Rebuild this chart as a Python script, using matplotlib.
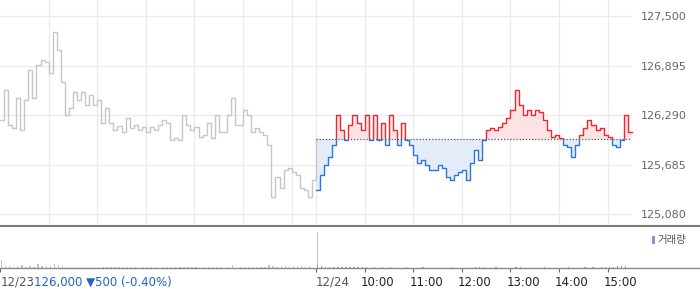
import numpy as np
import matplotlib
matplotlib.use('Agg')
import matplotlib.pyplot as plt
from matplotlib.patches import Rectangle
from matplotlib.lines import Line2D
from matplotlib.transforms import blended_transform_factory

# prix 5 minutes, 12/23 (09:00 -> 15:30)
price_d1 = [126230, 126600, 126170, 126130, 126500, 126110, 126480, 126840, 126500, 126900,
            126960, 126940, 126800, 127300, 127090, 126700, 126290, 126380, 126570, 126480,
            126570, 126410, 126540, 126410, 126480, 126190, 126380, 126190, 126110, 126160,
            126090, 126260, 126130, 126170, 126110, 126150, 126090, 126150, 126110, 126170,
            126230, 126190, 125990, 126010, 125990, 126290, 126170, 126110, 126150, 126020,
            126050, 126190, 126010, 126290, 126090, 126090, 126290, 126500, 126170, 126170,
            126350, 126290, 126090, 126130, 126090, 126050, 125930, 125290, 125540, 125400,
            125620, 125650, 125600, 125560, 125400, 125380, 125290, 125500, 126000]

# prix 5 minutes, 12/24
price_d2 = [125380, 125560, 125680, 125780, 125930, 126290, 126110, 125990, 126170, 126290,
            126190, 126110, 126290, 125990, 126290, 125990, 126190, 125930, 126290, 126110,
            125930, 126190, 125990, 125930, 125800, 125710, 125740, 125680, 125620, 125620,
            125680, 125650, 125540, 125500, 125560, 125600, 125620, 125500, 125710, 125870,
            125740, 125990, 126110, 126130, 126110, 126150, 126190, 126260, 126350, 126600,
            126410, 126290, 126350, 126290, 126350, 126330, 126230, 126110, 126020, 126050,
            126010, 125930, 125900, 125780, 125930, 126050, 126130, 126230, 126170, 126110,
            126130, 126050, 126020, 125930, 125900, 125990, 126290, 126090, 126090]

vol_d1 = [800, 250, 200, 150, 200, 300, 150, 200, 150, 450,
          200, 250, 180, 400, 300, 200, 150, 120, 150, 100,
          120, 100, 150, 100, 80, 100, 120, 80, 90, 60,
          80, 100, 60, 80, 50, 60, 70, 80, 60, 50,
          60, 80, 70, 100, 60, 80, 90, 60, 70, 50,
          60, 80, 90, 60, 70, 40, 60, 300, 50, 60,
          80, 100, 120, 90, 70, 150, 300, 180, 150, 200,
          200, 150, 180, 200, 160, 150, 180, 0, 3600]

vol_d2 = [300, 250, 150, 120, 100, 80, 120, 60, 80, 60,
          100, 80, 60, 50, 60, 50, 60, 40, 60, 50,
          40, 50, 60, 40, 50, 40, 60, 40, 50, 40,
          30, 50, 40, 60, 40, 50, 30, 40, 50, 60,
          80, 60, 40, 50, 60, 40, 30, 40, 50, 60,
          100, 40, 50, 40, 30, 40, 60, 50, 40, 50,
          40, 30, 60, 50, 40, 50, 60, 50, 80, 50,
          60, 80, 120, 150, 200, 180, 250, 0, 2400]

base_price = 126000
y_ticks = [125080, 125685, 126290, 126895, 127500]
time_labels = ['10:00', '11:00', '12:00', '13:00', '14:00', '15:00']
prev_info = '126,000 ▼500 (-0.40%)'

# minutes depuis 12/23 09:00
t1 = np.arange(len(price_d1)) * 5
t2 = 390 + np.arange(len(price_d2)) * 5

RED = '#f2262e'
BLUE = '#2b76d8'
GRAY = '#c6c6cb'

W, H = 700, 289
fig = plt.figure(figsize=(7, 2.89), dpi=100)
right = 632 / W
ax = fig.add_axes([0, (H - 224) / H, right, 224 / H])
axv = fig.add_axes([0, (H - 268) / H, right, 41 / H])

# graphique principal
ax.set_xlim(0, 780)
ax.set_ylim(124962, 127695)
ax.set_xticks([60, 120, 180, 240, 300, 360, 390, 450, 510, 570, 630, 690, 750])
ax.set_yticks(y_ticks)
ax.set_yticklabels([f'{v:,}' for v in y_ticks])
ax.grid(True, color='#ebebeb', lw=1)
ax.set_axisbelow(True)
for s in ax.spines.values():
    s.set_visible(False)
ax.tick_params(bottom=False, labelbottom=False, left=False, labelleft=False,
               right=True, labelright=True, length=0, pad=6,
               labelsize=8, labelcolor='#666666')

ax.plot(t1, price_d1, drawstyle='steps-post', color=GRAY, lw=1.0)

# au-dessus / en dessous du cours de référence
up = Rectangle((390, base_price), 400, 5000, transform=ax.transData)
dn = Rectangle((390, base_price - 5000), 400, 5000, transform=ax.transData)
f_up = ax.fill_between(t2, price_d2, base_price, step='post', color='#fde3e5', lw=0)
f_up.set_clip_path(up)
f_dn = ax.fill_between(t2, price_d2, base_price, step='post', color='#e3ecf8', lw=0)
f_dn.set_clip_path(dn)
ax.plot([390, 780], [base_price, base_price], color='#555555', lw=0.9, ls=(0, (1, 1.5)))
l_up, = ax.plot(t2, price_d2, drawstyle='steps-post', color=RED, lw=1.0)
l_up.set_clip_path(up)
l_dn, = ax.plot(t2, price_d2, drawstyle='steps-post', color=BLUE, lw=1.0)
l_dn.set_clip_path(dn)

# volume
axv.set_xlim(0, 780)
axv.set_ylim(0, 4100)
axv.bar(t1 + 2, vol_d1, width=1.6, color='#c4c4c4', lw=0)
axv.bar(t2 + 2, vol_d2, width=1.6, color='#9a8bd0', lw=0)
axv.set_xticks([0, 390, 450, 510, 570, 630, 690, 750])
axv.set_xticklabels([])
axv.set_yticks([])
for s in axv.spines.values():
    s.set_visible(False)
axv.tick_params(axis='x', length=3, color='#666666', direction='out')

# lignes de séparation
fig.add_artist(Line2D([0, 1], [(H - 225.5) / H] * 2, color='#7c7c7c', lw=1.5))
fig.add_artist(Line2D([0, 1], [(H - 268) / H] * 2, color='#8a8a8a', lw=1))

# légende volume
fig.add_artist(Rectangle((652 / W, (H - 244) / H), 2.5 / W, 8 / H,
                         transform=fig.transFigure, color='#9a8bd0', lw=0))
fig.text(657 / W, (H - 240) / H, '거래량', fontsize=7.5, color='#555555',
         family=['Noto Sans CJK KR', 'DejaVu Sans'], va='center', ha='left')

# libellés du bas
tr = blended_transform_factory(axv.transData, fig.transFigure)
ly = (H - 282) / H
first = fig.text(0.5 / W, ly, '12/23', fontsize=8.5, color='#555555', va='center', ha='left')
axv.annotate(prev_info, xy=(1, 0.5), xycoords=first, va='center', ha='left',
             fontsize=8.5, color='#2363c4', annotation_clip=False)
fig.text(390, ly, '12/24', fontsize=8.5, color='#555555', va='center', ha='left', transform=tr)
for i, lab in enumerate(time_labels):
    fig.text(450 + 60 * i - 5, ly, lab, fontsize=8.5, color='#222222',
             va='center', ha='left', transform=tr)

plt.savefig('out.png', dpi=100)
